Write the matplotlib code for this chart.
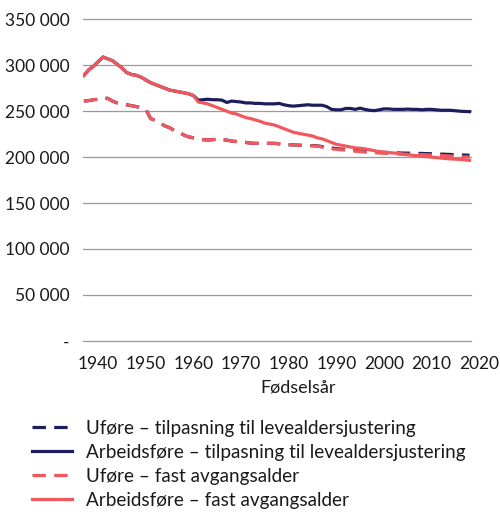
import matplotlib
matplotlib.use('Agg')
import matplotlib.pyplot as plt
from matplotlib.ticker import FuncFormatter

plt.rcParams['font.family'] = ['Lato', 'DejaVu Sans']

# Data (thousand kroner)
years = list(range(1937, 2019))

# common part of both solid lines 1937-1960
solid_early = [289, 295, 299, 304, 309, 307, 305, 301, 297, 292, 290, 289, 287, 284,
               281, 279, 277, 275, 273, 272, 271, 270, 269, 267]

arbeid_fast_late = [260, 259, 258, 256, 254, 252, 250, 248, 247, 245, 243, 242, 240.5,
                    239, 237, 236, 235, 233, 231, 229, 227, 226, 225, 224, 223, 221,
                    220, 218, 216, 214, 213, 212, 211, 210, 209.7, 209, 208, 207, 206,
                    205.5, 205, 204.5, 204, 203, 202.5, 202, 201.5, 201, 200.5, 200,
                    199.5, 199, 198.5, 198, 197.8, 197.5, 197, 196.5]

arbeid_tilp_late = [262, 262.5, 263, 262.5, 262.5, 262, 259.5, 261, 260.5, 260, 259, 259,
                    258.5, 258.5, 258, 258, 258, 258.5, 257, 256, 255.5, 256, 256.5, 257,
                    256.5, 256.5, 256.5, 255, 252, 251.5, 251.5, 253, 253, 252, 253.3,
                    252, 251, 250.6, 251.5, 252.5, 252.5, 252, 252, 252, 252.3, 252, 252,
                    251.5, 252, 252, 251.5, 251, 251, 251, 250.5, 250, 249.7, 249.5]

ufore_fast = [261, 261.5, 262.5, 263, 264, 264, 261, 259, 258, 257, 256, 255, 254, 252,
              242, 240, 237, 234, 232, 229, 227, 224, 222, 221, 220, 219, 218.7, 219,
              219.5, 219, 218.5, 217.5, 217, 216.5, 216, 215.2, 215, 215, 215, 215, 215,
              214.5, 214, 213.5, 213.3, 213, 212.8, 212.5, 212.3, 212, 211, 210, 209,
              208.6, 208, 207.5, 207, 206.5, 206, 205.5, 205, 204.8, 204.5, 204.2, 204,
              203.8, 203.5, 203.3, 203.1, 203, 202.8, 202.7, 202.5, 202.4, 202, 201.8,
              201.5, 201.2, 201, 200.5, 200.3, 200]

ufore_tilp_late = [212.5, 212.3, 211.5, 210.8, 210, 209.3, 208.7, 208.3, 207.8, 207.3, 207,
                   206.5, 206, 205.7, 205.4, 205.1, 205, 204.8, 204.6, 204.4, 204.3, 204.2,
                   204.1, 204, 203.8, 203.7, 203.5, 203.3, 203.1, 202.9, 202.6, 202.4,
                   202.2, 202]

arbeid_fast = [v * 1000 for v in solid_early + arbeid_fast_late]
arbeid_tilp = [v * 1000 for v in solid_early + arbeid_tilp_late]
ufore_tilp = [v * 1000 for v in ufore_fast[:48] + ufore_tilp_late]
ufore_fast = [v * 1000 for v in ufore_fast]

labels = ['Uføre – tilpasning til levealdersjustering',
          'Arbeidsføre – tilpasning til levealdersjustering',
          'Uføre – fast avgangsalder',
          'Arbeidsføre – fast avgangsalder']

navy = '#1d1d5c'
red = '#f0585d'

fig = plt.figure(figsize=(5, 5.16), dpi=100)
ax = fig.add_axes([0.166, 0.3395, 0.795, 0.623])

x0, x1 = 1936.8, 2020.3
ax.set_xlim(x0, x1)
ax.set_ylim(0, 350000)

# gridlines stop at the end of the data, like the original
yt = [0, 50000, 100000, 150000, 200000, 250000, 300000, 350000]
for v in yt:
    ax.axhline(v, xmax=(2018.3 - x0) / (x1 - x0), color='#9a9a9a', lw=0.9, zorder=0,
               clip_on=False)

lw = 2.3
ax.plot(years, ufore_tilp, color=navy, lw=lw, dashes=(4.2, 2.6), label=labels[0])
ax.plot(years, arbeid_tilp, color=navy, lw=lw, label=labels[1])
ax.plot(years, ufore_fast, color=red, lw=lw, dashes=(4.2, 2.6), label=labels[2])
ax.plot(years, arbeid_fast, color=red, lw=lw, label=labels[3])

ax.set_yticks(yt)
ax.yaxis.set_major_formatter(FuncFormatter(
    lambda v, p: '-' if v == 0 else f'{int(v):,}'.replace(',', ' ')))
ax.set_xticks(range(1940, 2021, 10))
ax.tick_params(length=0, labelsize=12.5, colors='#1a1a1a')
ax.tick_params(axis='y', pad=9.5)
ax.tick_params(axis='x', pad=11)
for s in ax.spines.values():
    s.set_visible(False)

ax.set_xlabel('Fødselsår', fontsize=13, color='#1a1a1a', x=0.54, labelpad=5)

ax.legend(loc='upper left', bbox_to_anchor=(0.064, 0.187), bbox_transform=fig.transFigure,
          frameon=False, fontsize=13.6, handlelength=2.1, handletextpad=0.75,
          labelspacing=0.38, borderpad=0, borderaxespad=0, labelcolor='#1a1a1a')

fig.savefig('out.png', dpi=100)
